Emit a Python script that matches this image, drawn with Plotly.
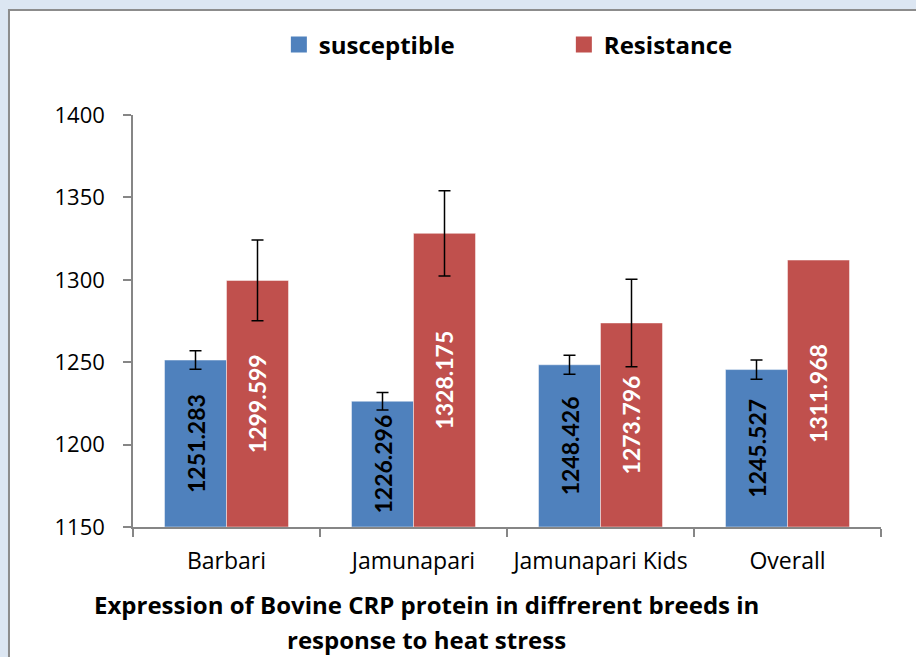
import plotly.graph_objects as go

categories = ["Barbari", "Jamunapari", "Jamunapari Kids", "Overall"]
susceptible = [1251.283, 1226.296, 1248.426, 1245.527]
resistance = [1299.599, 1328.175, 1273.796, 1311.968]
susceptible_err = [5.6, 5.3, 5.8, 5.8]
resistance_err = [24.5, 25.8, 26.6]  # "Overall" has no error bar
y_ticks = [1150, 1200, 1250, 1300, 1350, 1400]
y_min, y_max = 1150, 1400

BLUE = "#4F81BD"
RED = "#C0504D"
BG = "#DCE6F2"
LABEL_FONT = "Lato"
TEXT_FONT = "Open Sans"

fig = go.Figure()
fig.add_trace(go.Bar(
    x=categories, y=[v - y_min for v in susceptible], base=y_min,
    name="susceptible", showlegend=False,
    marker=dict(color=BLUE, line=dict(color="rgba(255,255,255,0.45)", width=1)),
    error_y=dict(type="data", array=susceptible_err, color="black", thickness=1.5, width=6),
    text=[f"{v:.3f}" for v in susceptible],
    textposition="inside", insidetextanchor="middle", textangle=-90,
    constraintext="none",
    textfont=dict(family=LABEL_FONT, size=23, color="black", weight="bold"),
))
fig.add_trace(go.Bar(
    x=categories, y=[v - y_min for v in resistance], base=y_min,
    name="Resistance", showlegend=False,
    marker=dict(color=RED, line=dict(color="rgba(255,255,255,0.45)", width=1)),
    error_y=dict(type="data", array=resistance_err, color="black", thickness=1.5, width=6),
    text=[f"{v:.3f}".rstrip("0") for v in resistance],
    textposition="inside", insidetextanchor="middle", textangle=-90,
    constraintext="none",
    textfont=dict(family=LABEL_FONT, size=23, color="white", weight="bold"),
))
# legend proxies
fig.add_trace(go.Scatter(x=[None], y=[None], mode="markers", name="susceptible",
                         legend="legend",
                         marker=dict(symbol="square", size=16, color=BLUE)))
fig.add_trace(go.Scatter(x=[None], y=[None], mode="markers", name="Resistance",
                         legend="legend2",
                         marker=dict(symbol="square", size=16, color=RED)))

leg_common = dict(
    orientation="h", xanchor="left", yanchor="middle", y=1.17,
    font=dict(family=TEXT_FONT, size=24, color="black", weight="bold"),
    bgcolor="rgba(0,0,0,0)", itemclick=False, itemdoubleclick=False,
)

fig.update_layout(
    width=916, height=657,
    margin=dict(l=133, r=35, t=115, b=130),
    paper_bgcolor=BG,
    plot_bgcolor="white",
    barmode="group",
    bargap=0.337,
    bargroupgap=0,
    font=dict(family=TEXT_FONT, size=22, color="black"),
    legend=dict(x=0.195, **leg_common),
    legend2=dict(x=0.576, **leg_common),
    shapes=[dict(
        type="rect", xref="paper", yref="paper",
        x0=-0.1658, x1=1.2, y0=-0.45, y1=1.2549,
        fillcolor="white", line=dict(color="#8C8C8C", width=2), layer="below",
    )],
    annotations=[
        dict(text="<b>Expression of Bovine CRP protein in diffrerent breeds in</b>",
             xref="paper", yref="paper", x=0.393, y=-0.189, xanchor="center", yanchor="middle",
             showarrow=False, font=dict(family=TEXT_FONT, size=24, color="black")),
        dict(text="<b>response to heat stress</b>",
             xref="paper", yref="paper", x=0.393, y=-0.274, xanchor="center", yanchor="middle",
             showarrow=False, font=dict(family=TEXT_FONT, size=24, color="black")),
    ],
)
fig.update_xaxes(
    type="category", showline=True, linecolor="#868686", linewidth=1.5,
    ticks="outside", ticklen=8, tickcolor="#868686", tickwidth=1.5,
    tickson="boundaries", showgrid=False, zeroline=False, ticklabelstandoff=13,
    tickfont=dict(family=TEXT_FONT, size=23, color="black"),
)
fig.update_yaxes(
    range=[y_min, y_max], tickvals=y_ticks, showline=True, linecolor="#868686", linewidth=1.5,
    ticks="outside", ticklen=8, tickcolor="#868686", tickwidth=1.5,
    showgrid=False, zeroline=False, ticklabelstandoff=14,
    tickfont=dict(family=TEXT_FONT, size=22, color="black"),
)

fig.write_html(
    "out.html",
    config={"displayModeBar": False},
    post_script="document.body.style.margin='0';document.body.style.background='%s';" % BG,
)
